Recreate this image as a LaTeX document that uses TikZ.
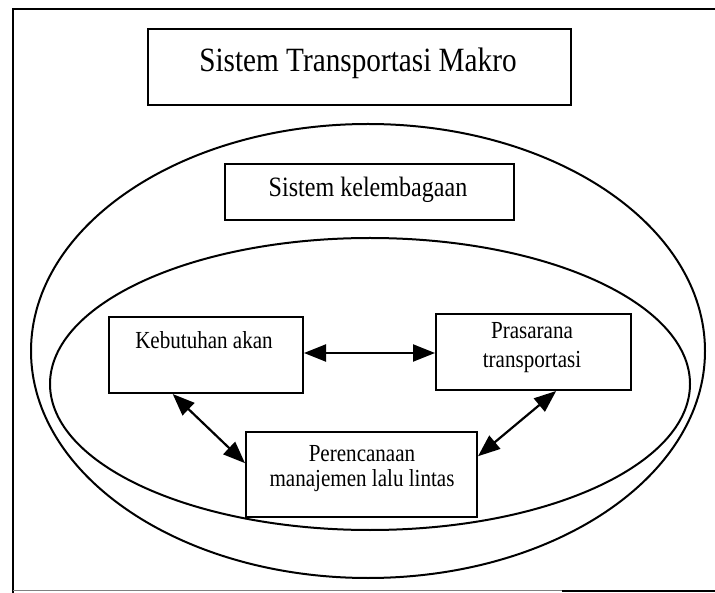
\documentclass[tikz,border=0pt]{standalone}
\usepackage{fontspec}
\setmainfont{Liberation Serif}[FakeStretch=0.86]
\usetikzlibrary{arrows.meta,calc}

\tikzset{
  frameline/.style={line width=2pt, line cap=rect},
  boxnode/.style={draw, line width=2pt, inner sep=0pt, anchor=north west},
  ringline/.style={line width=2pt},
  lbl/.style={inner sep=0pt, align=center, font=\fontsize{24.5}{29}\selectfont},
  link/.style={line width=2.2pt, {Triangle[length=22pt,width=17pt]}-{Triangle[length=22pt,width=17pt]}}
}

\begin{document}
\begin{tikzpicture}[x=1pt,y=-1pt]
  \useasboundingbox (0,0) rectangle (715,593);
  \fill[white] (0,0) rectangle (715,593);

  % outer frame (open on the right)
  \draw[frameline] (13,593) -- (13,9) -- (715,9);
  \draw[line width=0.6pt, gray] (13,590) -- (562,590);
  \draw[line width=2pt] (562,591) -- (715,591);

  % nested system rings
  \draw[ringline] (368,351) ellipse [x radius=337, y radius=227];
  \draw[ringline] (370,384) ellipse [x radius=320, y radius=146];

  % boxes
  \node[boxnode, minimum width=423pt, minimum height=76pt] (makro) at (147,28) {};
  \node[inner sep=0pt, font=\fontsize{34}{38}\selectfont] (makrotxt) at (358,63) {Sistem Transportasi Makro};

  \node[boxnode, minimum width=289pt, minimum height=56pt] (lembaga) at (224,163) {};
  \node[inner sep=0pt, font=\fontsize{28}{32}\selectfont] (lembagatxt) at (368,190) {Sistem kelembagaan};

  \node[boxnode, minimum width=194pt, minimum height=76pt] (keb) at (108,316) {};
  \node[lbl] (kebtxt) at (204,340) {Kebutuhan akan};

  \node[boxnode, minimum width=195pt, minimum height=76pt] (pras) at (435,313) {};
  \node[lbl] (prastxt) at (532,348) {Prasarana\\transportasi};

  \node[boxnode, minimum width=231pt, minimum height=85pt] (man) at (245,431) {};
  \node[lbl, font=\fontsize{24.5}{25}\selectfont] (mantxt) at (362,469) {Perencanaan\\manajemen lalu lintas};

  % two-way links
  \draw[link] (keb.east |- 0,353) -- (pras.west |- 0,353);
  \draw[link] ($(keb.south west)!0.33!(keb.south east)$) -- ($(man.north west)!0.37!(man.south west)$);
  \draw[link] ($(pras.south west)!0.615!(pras.south east)$) -- ($(man.north east)!0.29!(man.south east)$);
\end{tikzpicture}
\end{document}
